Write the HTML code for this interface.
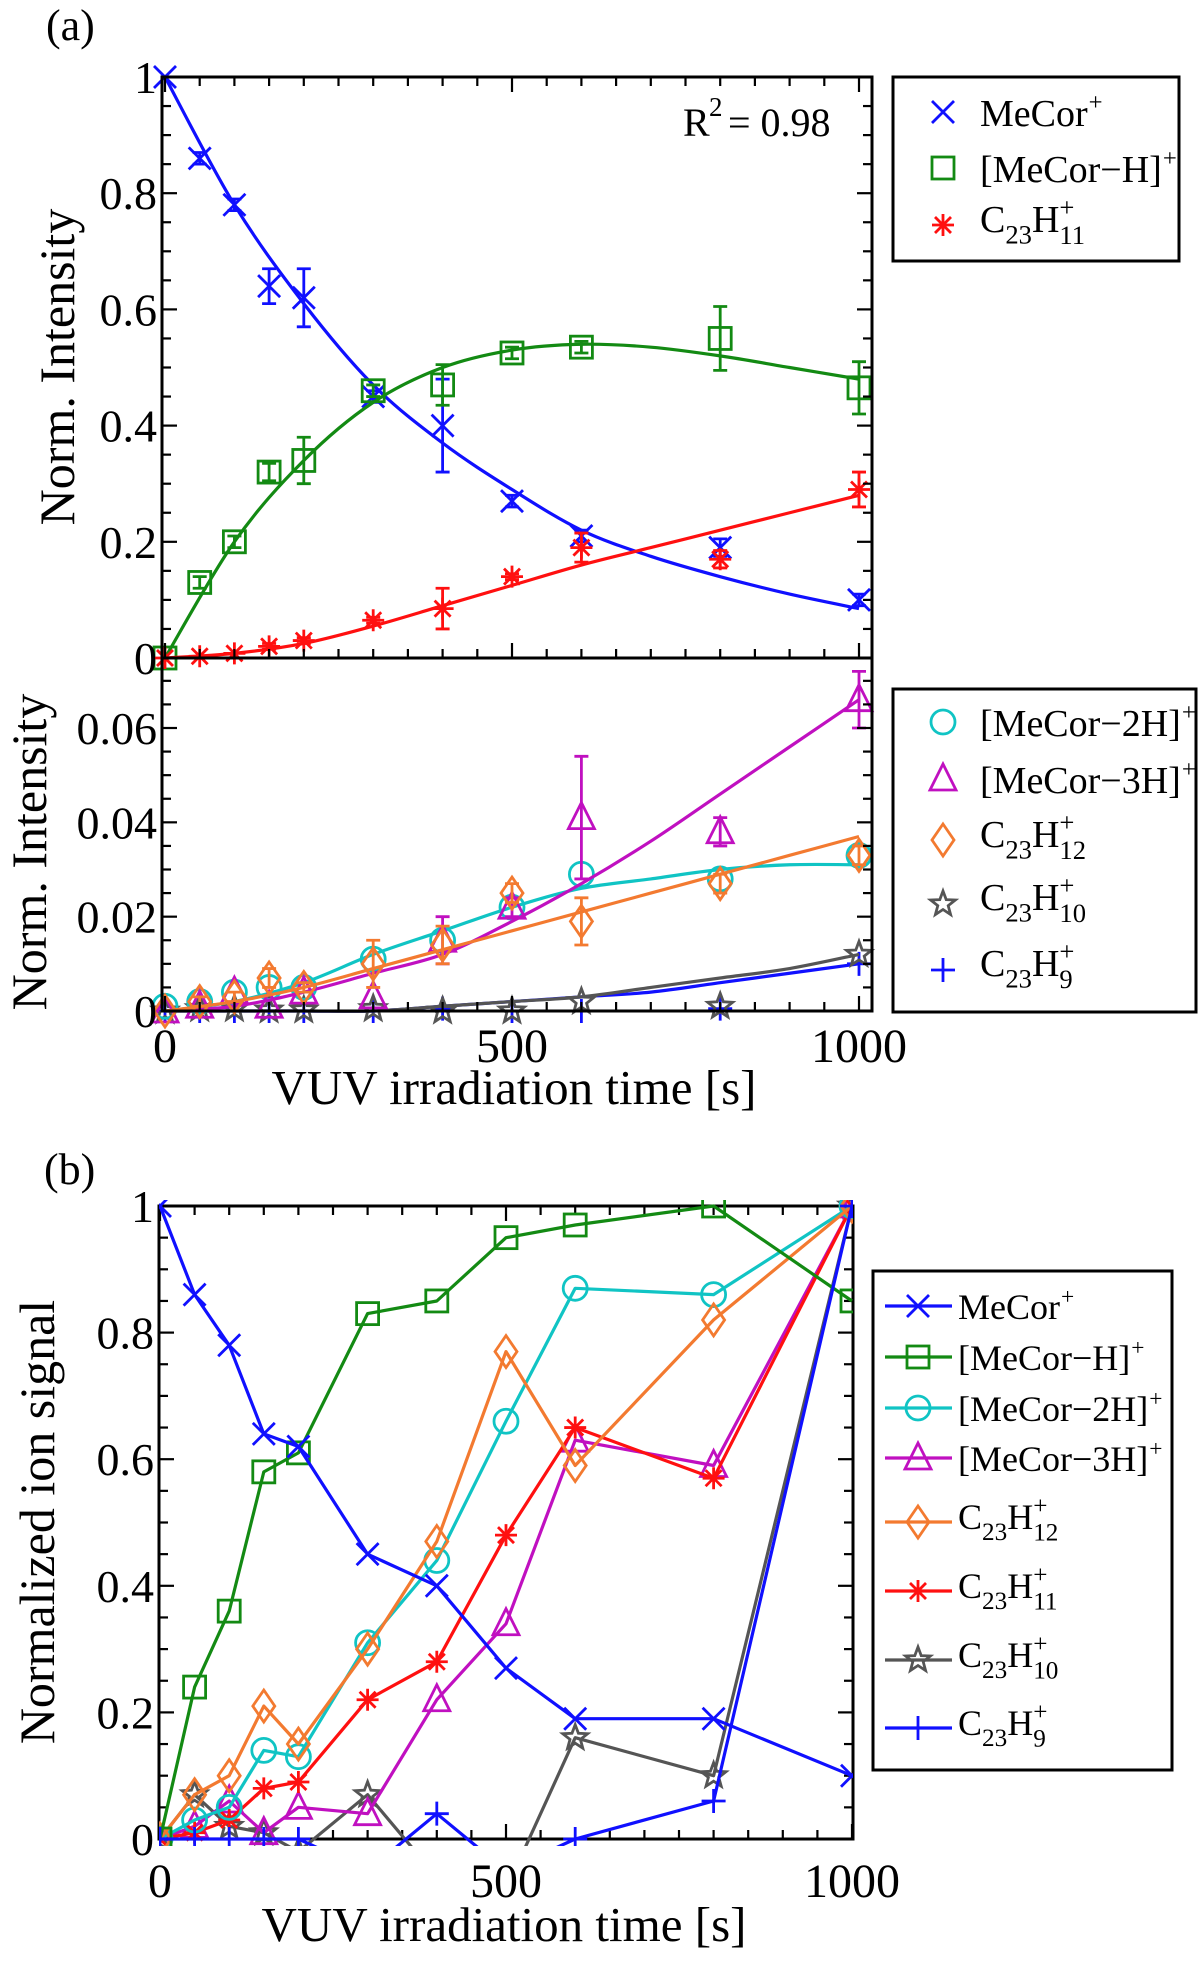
<!DOCTYPE html>
<html><head><meta charset="utf-8"><style>
body{margin:0;background:#fff}
svg{display:block;font-family:"Liberation Serif","DejaVu Serif",serif}
</style></head><body>
<svg id="fig" width="1200" height="1970" viewBox="0 0 1200 1970" xmlns="http://www.w3.org/2000/svg">
<defs>
<clipPath id="clipB"><rect x="159" y="1200" width="694" height="646"/></clipPath>
</defs>
</svg>
<script>
// ---------- data ----------
const times = [0,50,100,150,200,300,400,500,600,800,1000];
const fitT = [0,100,200,300,400,500,600,700,800,900,1000];
// panel a top
const aMeCor = [1,0.86,0.78,0.64,0.62,0.45,0.40,0.27,0.21,0.19,0.10];
const aMeCorErr = [0,0.01,0.01,0.03,0.05,0.01,0.08,0.01,0.01,0.015,0.01];
const aMeCorH = [0,0.13,0.20,0.32,0.34,0.46,0.47,0.525,0.535,0.55,0.465];
const aMeCorHErr = [0,0.01,0.01,0.015,0.04,0.01,0.035,0.01,0.01,0.055,0.045];
const aC23H11 = [0,0.003,0.008,0.02,0.03,0.065,0.085,0.14,0.19,0.17,0.29];
const aC23H11Err = [0,0,0,0.005,0.005,0.005,0.035,0.005,0.025,0.015,0.03];
const fitMeCor = [1,0.78,0.61,0.47,0.37,0.29,0.22,0.175,0.14,0.11,0.085];
const fitMeCorH = [0,0.20,0.34,0.44,0.50,0.53,0.54,0.535,0.52,0.50,0.48];
const fitC23H11 = [0,0.008,0.025,0.055,0.09,0.125,0.16,0.19,0.22,0.25,0.28];
// panel a bottom
const a2H = [0.001,0.002,0.004,0.005,0.005,0.011,0.015,0.022,0.029,0.028,0.033];
const a3H = [0,0.001,0.004,0.001,0.004,0.003,0.015,0.022,0.041,0.038,0.066];
const a3HErr = [0,0,0,0,0,0,0.005,0.002,0.013,0.003,0.006];
const aC23H12 = [0,0.002,0.003,0.007,0.005,0.010,0.014,0.025,0.019,0.027,0.033];
const aC23H12Err = [0,0.001,0.001,0.002,0.001,0.005,0.004,0.002,0.005,0.002,0.002];
const aC23H10 = [0,0.0005,0.0005,0.0002,0.0002,0.0005,0,0,0.002,0.001,0.012];
const aC23H9 = [0,0,0,0,0,0,0.0005,0,0,0.0005,0.010];
const fit2H = [0,0.002,0.006,0.012,0.017,0.022,0.026,0.028,0.030,0.031,0.031];
const fit3H = [0,0.001,0.004,0.008,0.012,0.019,0.027,0.036,0.046,0.056,0.066];
const fitC23H12 = [0,0.002,0.005,0.009,0.013,0.017,0.021,0.025,0.029,0.033,0.037];
const fitC23H10 = [0,0,0,0,0.001,0.002,0.003,0.005,0.007,0.009,0.012];
const fitC23H9 = [0,0,0,0,0.001,0.002,0.003,0.004,0.006,0.008,0.010];
// panel b
const bMeCor = [1,0.86,0.78,0.64,0.62,0.45,0.40,0.27,0.19,0.19,0.10];
const bMeCorH = [0,0.24,0.36,0.58,0.61,0.83,0.85,0.95,0.97,1.0,0.85];
const b2H = [0,0.03,0.05,0.14,0.13,0.31,0.44,0.66,0.87,0.86,1.0];
const b3H = [0,0.02,0.06,0.01,0.05,0.04,0.22,0.34,0.63,0.59,1.0];
const bC23H12 = [0,0.07,0.10,0.21,0.15,0.30,0.47,0.77,0.59,0.82,1.0];
const bC23H11 = [0,0.01,0.03,0.08,0.09,0.22,0.28,0.48,0.65,0.57,1.0];
const bC23H10 = [0,0.07,0.02,0.01,-0.02,0.07,-0.06,-0.08,0.16,0.10,1.0];
const bC23H9 = [0,0,0,0,0,-0.05,0.04,-0.05,0,0.06,1.0];
const xTicks = [0,500,1000];
const aTopTicks = [0,0.2,0.4,0.6,0.8,1];
const aBotTicks = [0,0.02,0.04,0.06];
const bTicks = [0,0.2,0.4,0.6,0.8,1];

// ---------- colors ----------
const C = {blue:'#1010ff',green:'#138a13',red:'#ff1010',cyan:'#10c4c4',mag:'#c010c0',orange:'#f37a30',grey:'#555555'};
const svg = document.getElementById('fig');
const NS='http://www.w3.org/2000/svg';
function el(tag, attrs, parent){const e=document.createElementNS(NS,tag);for(const k in attrs)e.setAttribute(k,attrs[k]);(parent||svg).appendChild(e);return e;}

// ---------- axes ----------
const xA = v => 165 + v*0.694;
const xB = v => 160 + v*0.692;
const yAT = v => 658 - v*581;
const yAB = v => 1011 - v*(283/0.06);
const yB = v => 1839 - v*633;

function frame(name,x1,y1,x2,y2){
  const r=el('rect',{x:x1,y:y1,width:x2-x1,height:y2-y1,fill:'none',stroke:'#000','stroke-width':3});
  
  
}
function xTickMarks(xf,yTop,yBot,ticksTop,ticksBot){
  const g=el('g',{stroke:'#000','stroke-width':2.2});
  
  
  for(let v=0;v<=1020;v+=50){
    const X=xf(v), L=(v%500===0)?15:9;
    if(ticksBot) el('line',{x1:X,y1:yBot,x2:X,y2:yBot-L},g);
    if(ticksTop) el('line',{x1:X,y1:yTop,x2:X,y2:yTop+L},g);
  }
}
function yTickMarks(yf,x1,x2,vmin,vmax,step,major){
  const g=el('g',{stroke:'#000','stroke-width':2.2});
  
  
  const n=Math.round((vmax-vmin)/step);
  for(let i=0;i<=n;i++){
    const v=vmin+i*step, Y=yf(v);
    const isMaj=Math.abs(v/major-Math.round(v/major))<1e-6, L=isMaj?15:9;
    el('line',{x1:x1,y1:Y,x2:x1+L,y2:Y},g);
    el('line',{x1:x2,y1:Y,x2:x2-L,y2:Y},g);
  }
}
function txt(s,x,y,opts,name){
  const t=el('text',Object.assign({x:x,y:y,'font-size':46,fill:'#000'},opts||{}));
  t.textContent=s;
  
  
  return t;
}

// ---------- markers ----------
function marker(type,X,Y,col,g){
  const s=11, sw=2.8;
  const a={fill:'none',stroke:col,'stroke-width':sw};
  if(type==='x'){el('path',Object.assign({d:`M${X-s} ${Y-s}L${X+s} ${Y+s}M${X-s} ${Y+s}L${X+s} ${Y-s}`},a),g);}
  else if(type==='sq'){el('rect',Object.assign({x:X-s,y:Y-s,width:2*s,height:2*s},a),g);}
  else if(type==='ast'){el('path',Object.assign({d:`M${X-s} ${Y}L${X+s} ${Y}M${X} ${Y-s}L${X} ${Y+s}M${X-8} ${Y-8}L${X+8} ${Y+8}M${X-8} ${Y+8}L${X+8} ${Y-8}`},a),g);}
  else if(type==='o'){el('circle',Object.assign({cx:X,cy:Y,r:s+1},a),g);}
  else if(type==='tri'){el('path',Object.assign({d:`M${X} ${Y-s-4}L${X+s+2} ${Y+s}L${X-s-2} ${Y+s}Z`},a),g);}
  else if(type==='dia'){el('path',Object.assign({d:`M${X} ${Y-s-5}L${X+s} ${Y}L${X} ${Y+s+5}L${X-s} ${Y}Z`},a),g);}
  else if(type==='star'){let d='';for(let i=0;i<10;i++){const r=i%2?5.5:13,ang=-Math.PI/2+i*Math.PI/5;d+=(i?'L':'M')+(X+r*Math.cos(ang)).toFixed(1)+' '+(Y+r*Math.sin(ang)).toFixed(1);}el('path',Object.assign({d:d+'Z'},a),g);}
  else if(type==='plus'){el('path',Object.assign({d:`M${X-s-1} ${Y}L${X+s+1} ${Y}M${X} ${Y-s-1}L${X} ${Y+s+1}`},a),g);}
}
function lineFrom(xs,ys,xf,yf,col,g,w){
  let d='';xs.forEach((t,i)=>{d+=(i?'L':'M')+xf(t).toFixed(1)+' '+yf(ys[i]).toFixed(1);});
  return el('path',{d:d,fill:'none',stroke:col,'stroke-width':w||3,'stroke-linejoin':'round'},g);
}
function smoothFrom(xs,ys,xf,yf,col,g){
  const P=xs.map((t,i)=>[xf(t),yf(ys[i])]);
  let d=`M${P[0][0]} ${P[0][1]}`;
  for(let i=0;i<P.length-1;i++){
    const p0=P[i-1]||P[i],p1=P[i],p2=P[i+1],p3=P[i+2]||P[i+1];
    d+=`C${p1[0]+(p2[0]-p0[0])/6} ${p1[1]+(p2[1]-p0[1])/6} ${p2[0]-(p3[0]-p1[0])/6} ${p2[1]-(p3[1]-p1[1])/6} ${p2[0]} ${p2[1]}`;
  }
  return el('path',{d:d,fill:'none',stroke:col,'stroke-width':3.2},g);
}
function series(name,vals,errs,type,col,xf,yf,fit,parent){
  const g=el('g',{},parent);
  
  
  if(fit) smoothFrom(fitT,fit,xf,yf,col,g);
  times.forEach((t,i)=>{
    const X=xf(t),Y=yf(vals[i]);
    if(errs&&errs[i]>0){const e1=yf(vals[i]+errs[i]),e2=yf(vals[i]-errs[i]);
      el('path',{d:`M${X} ${e1}L${X} ${e2}M${X-7} ${e1}L${X+7} ${e1}M${X-7} ${e2}L${X+7} ${e2}`,stroke:col,'stroke-width':2.8,fill:'none'},g);}
    marker(type,X,Y,col,g);
  });
}

// ---------- legend text helper ----------
function legText(x,y,kind,a,b,fs,parent,name){
  const g=el('g',{},parent);
  
  
  const t=el('text',{x:x,y:y,'font-size':fs},g);
  if(kind==='plain'){ t.textContent=a; const w=t.getComputedTextLength(); el('text',{x:x+w+1,y:y-fs*0.42,'font-size':fs*0.65},g).textContent='+'; }
  else { // C_23 H^+_n
    t.textContent='C';
    const wc=t.getComputedTextLength();
    const s1=el('text',{x:x+wc,y:y+fs*0.3,'font-size':fs*0.7},g); s1.textContent='23';
    const w2=s1.getComputedTextLength();
    const h=el('text',{x:x+wc+w2,y:y,'font-size':fs},g); h.textContent='H';
    const wh=h.getComputedTextLength();
    el('text',{x:x+wc+w2+wh,y:y-fs*0.42,'font-size':fs*0.7},g).textContent='+';
    el('text',{x:x+wc+w2+wh,y:y+fs*0.32,'font-size':fs*0.7},g).textContent=b;
  }
}

// ================= Panel (a) =================
txt('(a)',46,40,{'font-size':44},'panel-a-label');
const gA=el('g',{});
frame('panel-a-top-frame',162,77,872,658);
frame('panel-a-bottom-frame',162,658,872,1011);
xTickMarks(xA,77,658,true,true);
xTickMarks(xA,658,1011,false,true);
yTickMarks(yAT,162,872,0,1,0.05,0.2);
yTickMarks(yAB,162,872,0,0.07,0.005,0.02);
aTopTicks.forEach(v=>txt(v===0||v===1?String(v):v.toFixed(1),157,yAT(v)+16,{'text-anchor':'end'},'y-tick-label'));
aBotTicks.forEach(v=>txt(v===0?'0':v.toFixed(2),157,yAB(v)+16,{'text-anchor':'end'},'y-tick-label'));
xTicks.forEach(v=>txt(String(v),xA(v),1062,{'text-anchor':'middle','font-size':48},'x-tick-label'));
txt('Norm. Intensity',74,367,{'text-anchor':'middle','font-size':50,transform:'rotate(-90 74 367)'},'y-axis-title-top');
txt('Norm. Intensity',46,852,{'text-anchor':'middle','font-size':50,transform:'rotate(-90 46 852)'},'y-axis-title-bottom');
txt('VUV irradiation time [s]',514,1104,{'text-anchor':'middle','font-size':49},'x-axis-title-a');
txt('R',683,136,{'font-size':40},'r-squared');
el('text',{x:709,y:116,'font-size':27}).textContent='2';
el('text',{x:728,y:136,'font-size':40}).textContent='= 0.98';

series('series-mecor-a',aMeCor,aMeCorErr,'x',C.blue,xA,yAT,fitMeCor,gA);
series('series-mecor-h-a',aMeCorH,aMeCorHErr,'sq',C.green,xA,yAT,fitMeCorH,gA);
series('series-c23h11-a',aC23H11,aC23H11Err,'ast',C.red,xA,yAT,fitC23H11,gA);
series('series-c23h9-a',aC23H9,null,'plus',C.blue,xA,yAB,fitC23H9,gA);
series('series-c23h10-a',aC23H10,null,'star',C.grey,xA,yAB,fitC23H10,gA);
series('series-mecor-2h-a',a2H,null,'o',C.cyan,xA,yAB,fit2H,gA);
series('series-mecor-3h-a',a3H,a3HErr,'tri',C.mag,xA,yAB,fit3H,gA);
series('series-c23h12-a',aC23H12,aC23H12Err,'dia',C.orange,xA,yAB,fitC23H12,gA);

// legends a
function legendBox(name,x,y,w,h){const r=el('rect',{x:x,y:y,width:w,height:h,fill:'#fff',stroke:'#000','stroke-width':3});return r;}
legendBox('legend-a-top',893,77,286,184);
const lt=el('g',{});
marker('x',943,112,C.blue,lt);legText(980,126,'plain','MeCor','',38,lt,'legend-entry-mecor');
marker('sq',943,168,C.green,lt);legText(980,182,'plain','[MeCor−H]','',38,lt,'legend-entry-mecor-h');
marker('ast',943,225,C.red,lt);legText(980,232,'c','','11',38,lt,'legend-entry-c23h11');
legendBox('legend-a-bottom',893,689,303,323);
const lb=el('g',{});
marker('o',943,722,C.cyan,lb);legText(980,736,'plain','[MeCor−2H]','',38,lb,'legend-entry-mecor-2h');
marker('tri',943,779,C.mag,lb);legText(980,793,'plain','[MeCor−3H]','',38,lb,'legend-entry-mecor-3h');
marker('dia',943,840,C.orange,lb);legText(980,847,'c','','12',38,lb,'legend-entry-c23h12');
marker('star',943,904,C.grey,lb);legText(980,910,'c','','10',38,lb,'legend-entry-c23h10');
marker('plus',943,970,C.blue,lb);legText(980,976,'c','','9',38,lb,'legend-entry-c23h9');

// ================= Panel (b) =================
txt('(b)',44,1184,{'font-size':44},'panel-b-label');
frame('panel-b-frame',159,1206,853,1839);
xTickMarks(xB,1206,1839,true,true);
yTickMarks(yB,159,853,0,1,0.05,0.2);
bTicks.forEach(v=>txt(v===0||v===1?String(v):v.toFixed(1),154,yB(v)+16,{'text-anchor':'end'},'y-tick-label'));
xTicks.forEach(v=>txt(String(v),xB(v),1897,{'text-anchor':'middle','font-size':48},'x-tick-label'));
txt('Normalized ion signal',54,1522,{'text-anchor':'middle','font-size':50,transform:'rotate(-90 54 1522)'},'y-axis-title-b');
txt('VUV irradiation time [s]',504,1941,{'text-anchor':'middle','font-size':49},'x-axis-title-b');
const gB=el('g',{'clip-path':'url(#clipB)'});
function bSeries(name,vals,type,col){
  const g=el('g',{},gB);
  
  
  lineFrom(times,vals,xB,yB,col,g,3.2);
  times.forEach((t,i)=>marker(type,xB(t),yB(vals[i]),col,g));
}
bSeries('series-c23h10-b',bC23H10,'star',C.grey);
bSeries('series-mecor-3h-b',b3H,'tri',C.mag);
bSeries('series-c23h11-b',bC23H11,'ast',C.red);
bSeries('series-mecor-2h-b',b2H,'o',C.cyan);
bSeries('series-c23h12-b',bC23H12,'dia',C.orange);
bSeries('series-mecor-h-b',bMeCorH,'sq',C.green);
bSeries('series-mecor-b',bMeCor,'x',C.blue);
bSeries('series-c23h9-b',bC23H9,'plus',C.blue);

legendBox('legend-b',873,1271,299,499);
const lg=el('g',{});
const bLeg=[['x',C.blue,1306,'plain','MeCor','','legend-entry-mecor'],['sq',C.green,1357,'plain','[MeCor−H]','','legend-entry-mecor-h'],['o',C.cyan,1408,'plain','[MeCor−2H]','','legend-entry-mecor-2h'],['tri',C.mag,1458,'plain','[MeCor−3H]','','legend-entry-mecor-3h'],['dia',C.orange,1522,'c','','12','legend-entry-c23h12'],['ast',C.red,1591,'c','','11','legend-entry-c23h11'],['star',C.grey,1660,'c','','10','legend-entry-c23h10'],['plus',C.blue,1728,'c','','9','legend-entry-c23h9']];
bLeg.forEach(e=>{
  el('line',{x1:885,y1:e[2],x2:952,y2:e[2],stroke:e[1],'stroke-width':3.2},lg);
  marker(e[0],918,e[2],e[1],lg);
  legText(958,e[3]==='plain'?e[2]+13:e[2]+7,e[3],e[4],e[5],36,lg,e[6]);
});
</script>
</body></html>
